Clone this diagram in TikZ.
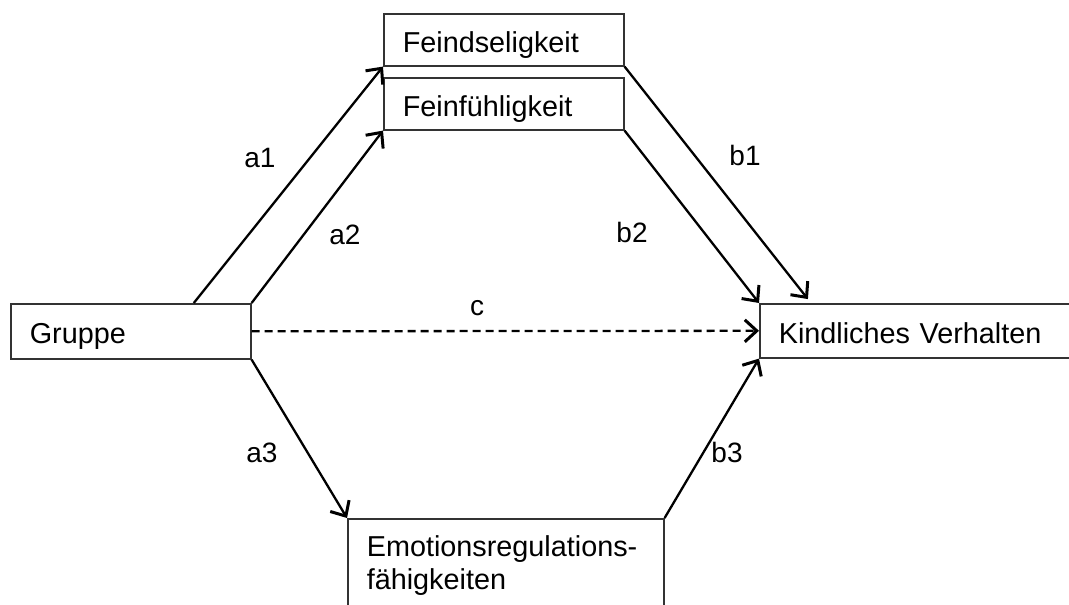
\documentclass[tikz,border=0pt]{standalone}
\usepackage{fontspec}
\setmainfont{Liberation Sans}
\usetikzlibrary{arrows.meta}
\begin{document}
\begin{tikzpicture}[x=1pt,y=-1pt,
		box/.style={draw=black!80,line width=1.6pt,rectangle,anchor=north west,align=left,inner xsep=19pt,font=\fontsize{28.8}{33}\selectfont},
		oneline/.style={text height=25pt,text depth=0pt},
		path/.style={line width=2.3pt,-{Straight Barb[length=12pt,width=22pt,line width=3pt]}},
		lbl/.style={font=\fontsize{28}{32}\selectfont}]
			\clip (0,0) rectangle (1069,605);
			\node[box,oneline,text width=202pt,minimum height=55pt] (gruppe) at (10,303) {Gruppe};
			\node[box,oneline,text width=320pt,minimum height=54pt] (kind) at (759,303) {Kindliches Verhalten};
			\node[box,oneline,text width=202pt,minimum height=52pt] (feind) at (383,13) {Feindseligkeit};
			\node[box,oneline,text width=202pt,minimum height=52pt] (feinf) at (383,77) {Feinfühligkeit};
			\node[box,text width=278pt,inner ysep=17pt] (emo) at (347,518) {Emotionsregulations-\\fähigkeiten};
			\draw[path] ([xshift=63pt]gruppe.north) -- (feind.south west);
			\draw[path] (gruppe.north east) -- (feinf.south west);
			\draw[path] (gruppe.south east) -- (emo.north west);
			\draw[path,shorten >=5pt] (feind.south east) -- ([xshift=52pt]kind.north west);
			\draw[path] (feinf.south east) -- (kind.north west);
			\draw[path] (emo.north east) -- (kind.south west);
			\draw[path,dash pattern=on 8pt off 5pt] (gruppe.east) -- (kind.west);
			\node[lbl] (la1) at (260,158) {a1};
			\node[lbl] (la2) at (345,235) {a2};
			\node[lbl] (la3) at (262,453) {a3};
			\node[lbl] (lb1) at (745,155) {b1};
			\node[lbl] (lb2) at (632,232) {b2};
			\node[lbl] (lb3) at (727,452) {b3};
			\node[lbl] (lc) at (477,308) {c};
		\end{tikzpicture}
\end{document}
